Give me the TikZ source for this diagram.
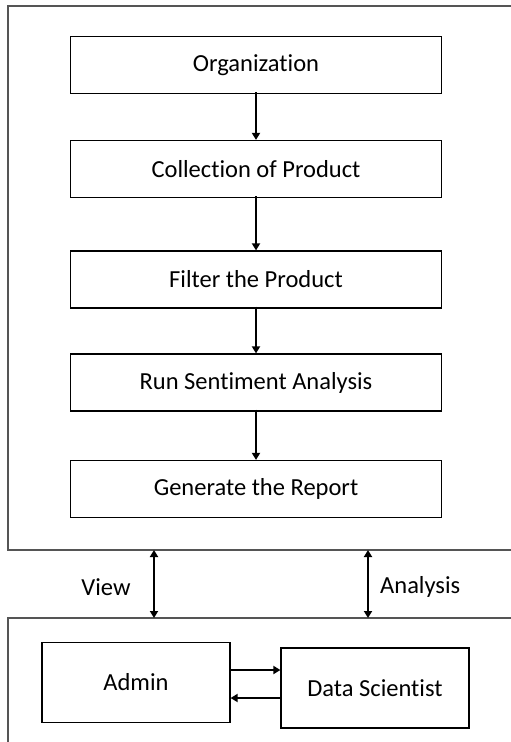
\documentclass[tikz,border=0pt]{standalone}
\usepackage{fontspec}
\setmainfont{Carlito}[Ligatures={NoCommon}]
\usetikzlibrary{arrows.meta}
\definecolor{frame}{HTML}{555555}

\begin{document}
\begin{tikzpicture}[x=1pt, y=-1pt,
      box/.style={draw=black, line width=1.2pt, minimum width=371pt, minimum height=57pt,
                  inner sep=0pt, font=\fontsize{24.5}{28}\selectfont},
      smallbox/.style={draw=black, line width=1.2pt, minimum width=188pt, minimum height=80pt,
                  inner sep=0pt, font=\fontsize{24.5}{28}\selectfont},
      lbl/.style={font=\fontsize{24.5}{28}\selectfont, inner sep=0pt},
      arr/.style={-{Triangle[length=7pt, width=8pt]}, line width=2.2pt},
      dblarr/.style={{Triangle[length=7pt, width=8pt]}-{Triangle[length=7pt, width=8pt]}, line width=2.2pt}]
    \useasboundingbox (0,0) rectangle (511,742);
    \clip (0,0) rectangle (511,742);
    \fill[white] (0,0) rectangle (511,742);
    % outer frames, cut by the page edge
    \draw[frame, line width=1.3pt] (530,6) -- (8,6) -- (8,550) -- (530,550);
    \draw[frame, line width=1.3pt] (530,618) -- (8,618) -- (8,760);
    \coordinate (topframe) at (256,550);
    \coordinate (botframe) at (256,618);
    % process steps
    \node[box] (org)  at (256,65)    {Organization};
    \node[box] (coll) at (256,169)   {Collection of Product};
    \node[box] (filt) at (256,279.5) {Filter the Product};
    \node[box] (run)  at (256,382.5) {Run Sentiment Analysis};
    \node[box] (gen)  at (256,489)   {Generate the Report};
    \foreach \a/\b in {org/coll, coll/filt, filt/run, run/gen}
      \draw[arr] ([yshift=2pt]\a.south) -- (\b.north);
    % users
    \node[smallbox] (admin) at (136,682.5) {Admin};
    \node[smallbox] (ds)    at (375,688)   {Data Scientist};
    \draw[arr] (admin.east |- 0,670) -- (ds.west |- 0,670);
    \draw[arr] (ds.west |- 0,698) -- (admin.east |- 0,698);
    % links between frames
    \draw[dblarr] (topframe -| 154,0) -- (botframe -| 154,0);
    \draw[dblarr] (topframe -| 368,0) -- (botframe -| 368,0);
    \node[lbl] (view) at (106,587) {View};
    \node[lbl, anchor=west] (ana) at (380,587) {Analysis};
\end{tikzpicture}
\end{document}
